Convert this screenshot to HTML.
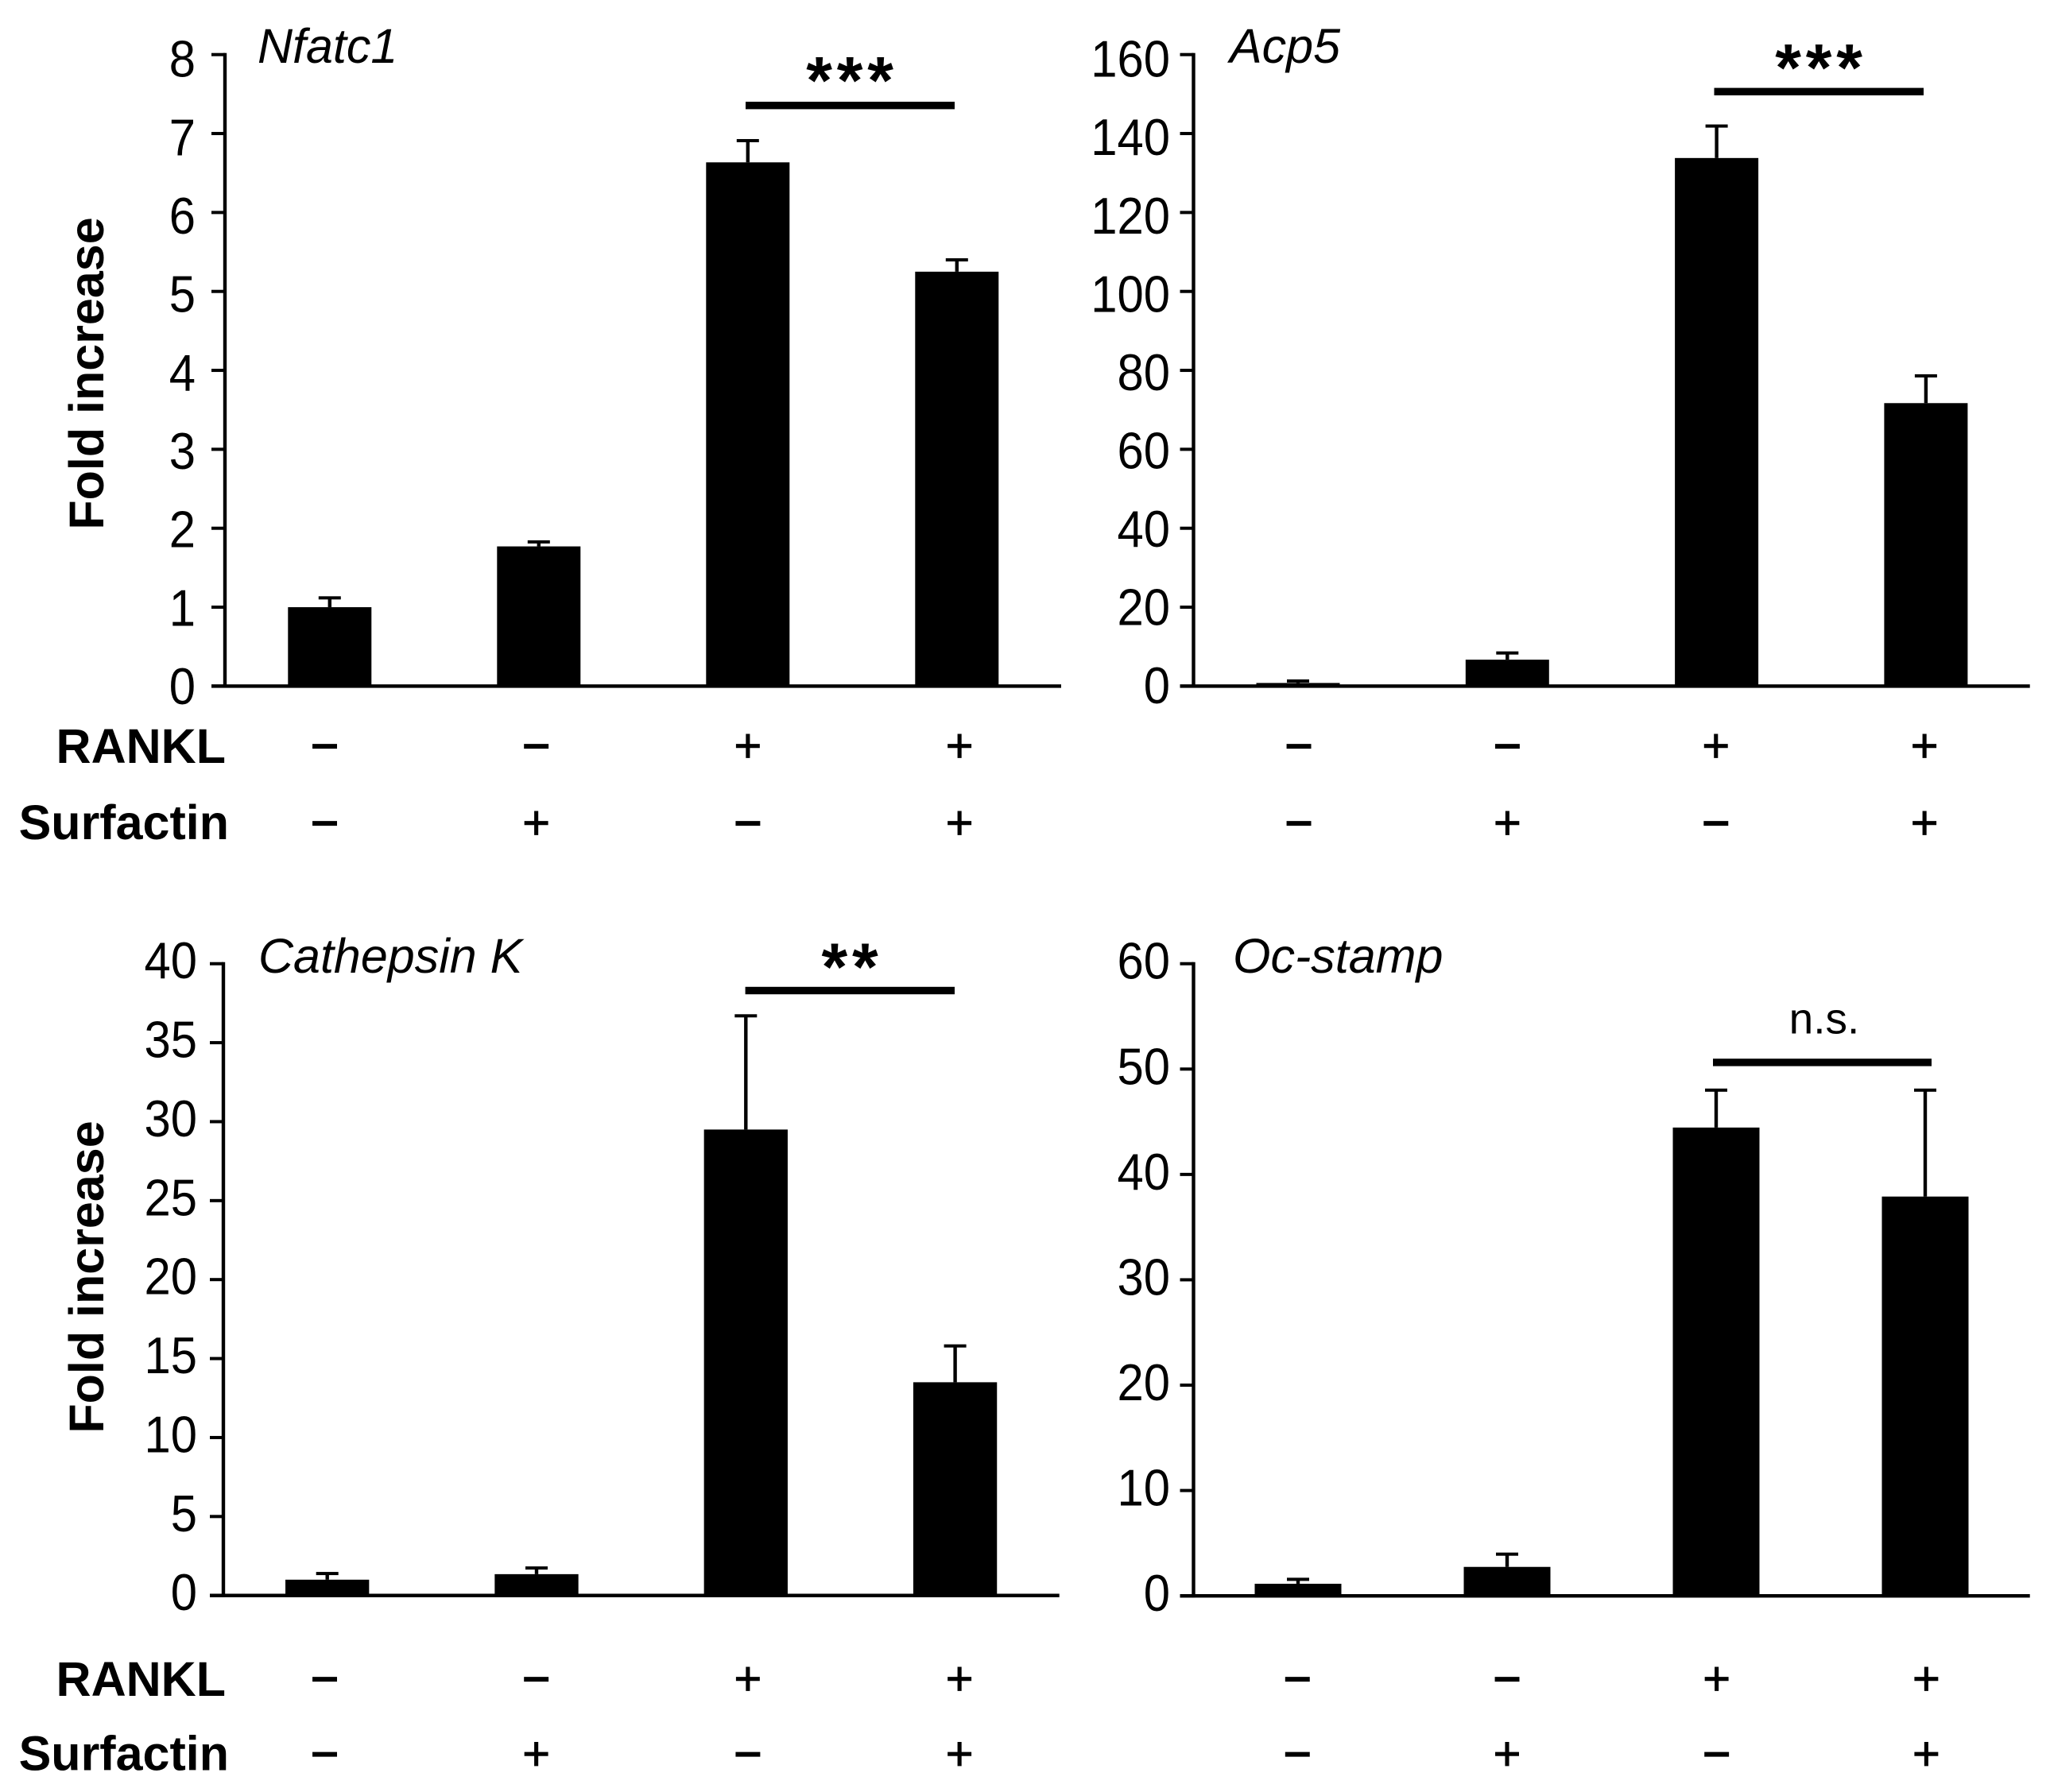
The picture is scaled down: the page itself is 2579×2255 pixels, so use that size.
<!DOCTYPE html>
<html lang="en">
<head>
<meta charset="utf-8">
<title>Osteoclast marker gene expression</title>
<style>
html,body{margin:0;padding:0;background:#fff;}
body{width:2579px;height:2255px;overflow:hidden;}
svg{display:block;}
text{font-family:"Liberation Sans",Arial,sans-serif;fill:#000;}
</style>
</head>
<body>
<svg id="figure" xmlns="http://www.w3.org/2000/svg" width="2579" height="2255" viewBox="0 0 2579 2255"></svg>
<script>
// Shared categorical rows
const rankl = ['−', '−', '+', '+'];
const surfactin = ['−', '+', '−', '+'];

// Nfatc1
const nfatc1Values = [1.0, 1.77, 6.635, 5.25];
const nfatc1Errors = [1.118, 1.827, 6.91, 5.40];
const nfatc1Ticks = [0, 1, 2, 3, 4, 5, 6, 7, 8];

// Acp5
const acp5Values = [0.8, 6.7, 133.8, 71.7];
const acp5Errors = [1.3, 8.4, 141.9, 78.6];
const acp5Ticks = [0, 20, 40, 60, 80, 100, 120, 140, 160];

// Cathepsin K
const ctskValues = [1.0, 1.35, 29.5, 13.5];
const ctskErrors = [1.39, 1.74, 36.7, 15.8];
const ctskTicks = [0, 5, 10, 15, 20, 25, 30, 35, 40];

// Oc-stamp
const ocstampValues = [1.15, 2.75, 44.45, 37.9];
const ocstampErrors = [1.57, 3.96, 48.0, 48.0];
const ocstampTicks = [0, 10, 20, 30, 40, 50, 60];

const SVG_NS = 'http://www.w3.org/2000/svg';
const root = document.getElementById('figure');

function make(tag, attrs, parent) {
  const el = document.createElementNS(SVG_NS, tag);
  for (const k in attrs) el.setAttribute(k, attrs[k]);
  parent.appendChild(el);
  return el;
}

function label(parent, str, x, y, size, opts) {
  const o = opts || {};
  const el = make('text', {x: x, y: y, 'font-size': size, 'text-anchor': o.anchor || 'middle'}, parent);
  if (o.weight) el.setAttribute('font-weight', o.weight);
  if (o.style) el.setAttribute('font-style', o.style);
  if (o.transform) el.setAttribute('transform', o.transform);
  if (o.spacing) el.setAttribute('letter-spacing', o.spacing);
  if (o.stroke) { el.setAttribute('stroke', '#000'); el.setAttribute('stroke-width', o.stroke); }
  if (o.scaleX) {
    el.setAttribute('x', 0);
    el.setAttribute('y', 0);
    el.setAttribute('transform', 'translate(' + x + ' ' + y + ') scale(' + o.scaleX + ' 1)');
  }
  el.textContent = str;
  return el;
}

function drawPanel(p) {
  const g = make('g', {}, root);
  
  

  const maxV = p.ticks[p.ticks.length - 1];
  const yScale = v => p.yBase - (v / maxV) * (p.yBase - p.yTop);
  const xScale = i => p.x0 + i * p.step;

  // bars and error bars
  p.values.forEach((v, i) => {
    const cx = xScale(i);
    const stem = make('rect', {x: cx - 2.2, y: yScale(p.errors[i]), width: 4.4, height: yScale(v) - yScale(p.errors[i]), fill: '#000'}, g);
    
    
    const cap = make('rect', {x: cx - 14, y: yScale(p.errors[i]) - 2, width: 28, height: 4, fill: '#000'}, g);
    
    
    const bar = make('rect', {x: cx - p.barW / 2, y: yScale(v), width: p.barW, height: p.yBase + 2 - yScale(v), fill: '#000'}, g);
    
    
  });

  // axes
  const yAxis = make('rect', {x: p.axisX - 2.2, y: p.yTop - 2, width: 4.4, height: p.yBase - p.yTop + 4, fill: '#000'}, g);
  
  
  const xAxis = make('rect', {x: p.axisX - 17, y: p.yBase - 2.2, width: p.xEnd - p.axisX + 17, height: 4.4, fill: '#000'}, g);
  
  

  // ticks and tick labels
  p.ticks.forEach(t => {
    const tick = make('rect', {x: p.axisX - 17, y: yScale(t) - 2, width: 17, height: 4, fill: '#000'}, g);
    
    
    const off = p.labelBase + p.labelSlope * (t / maxV);
    const txt = label(g, String(t), p.labelRight, yScale(t) + off, 65, {anchor: 'end', scaleX: 0.92});
    
    
  });

  // gene title
  const title = label(g, p.title, p.titleX, p.titleY, 61, {anchor: 'start', style: 'italic'});
  
  

  // significance
  const sig = make('rect', {x: p.sigX1, y: p.sigY, width: p.sigX2 - p.sigX1, height: 9.4, fill: '#000'}, g);
  
  
  const sigText = label(g, p.sigText, p.sigTextX, p.sigTextY, p.sigSize, {weight: p.sigWeight, spacing: p.sigSpacing});
  
  

  // y axis title
  if (p.yTitleY) {
    const yTitle = label(g, 'Fold increase', 130, p.yTitleY, 61, {weight: 'bold', transform: 'rotate(-90 130 ' + p.yTitleY + ')'});
    
    
    const r = label(g, 'RANKL', 284, p.row1 + 22, 61, {weight: 'bold', anchor: 'end'});
    
    
    const s = label(g, 'Surfactin', 288, p.row2 + 21, 61, {weight: 'bold', anchor: 'end'});
    
    
  }

  // treatment signs
  const signX = i => p.signX0 + i * p.signStep;
  rankl.forEach((c, i) => {
    const el = label(g, c, signX(i), p.row1 + 21, 60, {stroke: c === '−' ? 1.8 : 0.8});
    
    
  });
  surfactin.forEach((c, i) => {
    const el = label(g, c, signX(i), p.row2 + 21, 60, {stroke: c === '−' ? 1.8 : 0.8});
    
    
  });
}

drawPanel({name: 'nfatc1', title: 'Nfatc1', titleX: 324, titleY: 79,
  values: nfatc1Values, errors: nfatc1Errors, ticks: nfatc1Ticks,
  axisX: 283, xEnd: 1335, yTop: 68.7, yBase: 863.4, x0: 414.8, step: 263, barW: 105,
  labelRight: 246, labelBase: 22.5, labelSlope: 5.5,
  sigX1: 938, sigX2: 1201, sigY: 128, sigText: '***', sigTextX: 1072, sigTextY: 130, sigSize: 84, sigWeight: 'bold', sigSpacing: 5.8,
  yTitleY: 470, row1: 938, row2: 1035, signX0: 408.5, signStep: 266.2});

drawPanel({name: 'acp5', title: 'Acp5', titleX: 1547, titleY: 79,
  values: acp5Values, errors: acp5Errors, ticks: acp5Ticks,
  axisX: 1501.5, xEnd: 2553.7, yTop: 68.7, yBase: 863.4, x0: 1633, step: 263.3, barW: 105,
  labelRight: 1472, labelBase: 21.5, labelSlope: 6.5,
  sigX1: 2156.5, sigX2: 2420, sigY: 110.6, sigText: '***', sigTextX: 2291, sigTextY: 114, sigSize: 84, sigWeight: 'bold', sigSpacing: 5.8,
  row1: 938, row2: 1035, signX0: 1634, signStep: 262.4});

drawPanel({name: 'cathepsin-k', title: 'Cathepsin K', titleX: 325, titleY: 1224,
  values: ctskValues, errors: ctskErrors, ticks: ctskTicks,
  axisX: 281, xEnd: 1332.7, yTop: 1212.7, yBase: 2007.7, x0: 411.7, step: 263.3, barW: 105.3,
  labelRight: 248, labelBase: 18.5, labelSlope: 0,
  sigX1: 937.6, sigX2: 1201, sigY: 1241.8, sigText: '**', sigTextX: 1072, sigTextY: 1245.6, sigSize: 84, sigWeight: 'bold', sigSpacing: 5.8,
  yTitleY: 1607, row1: 2112, row2: 2206.5, signX0: 408.5, signStep: 266.2});

drawPanel({name: 'oc-stamp', title: 'Oc-stamp', titleX: 1551, titleY: 1224,
  values: ocstampValues, errors: ocstampErrors, ticks: ocstampTicks,
  axisX: 1501.5, xEnd: 2553.7, yTop: 1212.7, yBase: 2008.2, x0: 1633, step: 263, barW: 109,
  labelRight: 1472, labelBase: 19, labelSlope: 0,
  sigX1: 2155, sigX2: 2430, sigY: 1332.2, sigText: 'n.s.', sigTextX: 2295, sigTextY: 1300.7, sigSize: 55, sigWeight: 'normal',
  row1: 2112, row2: 2206.5, signX0: 1632.3, signStep: 263.7});
</script>
</body>
</html>
